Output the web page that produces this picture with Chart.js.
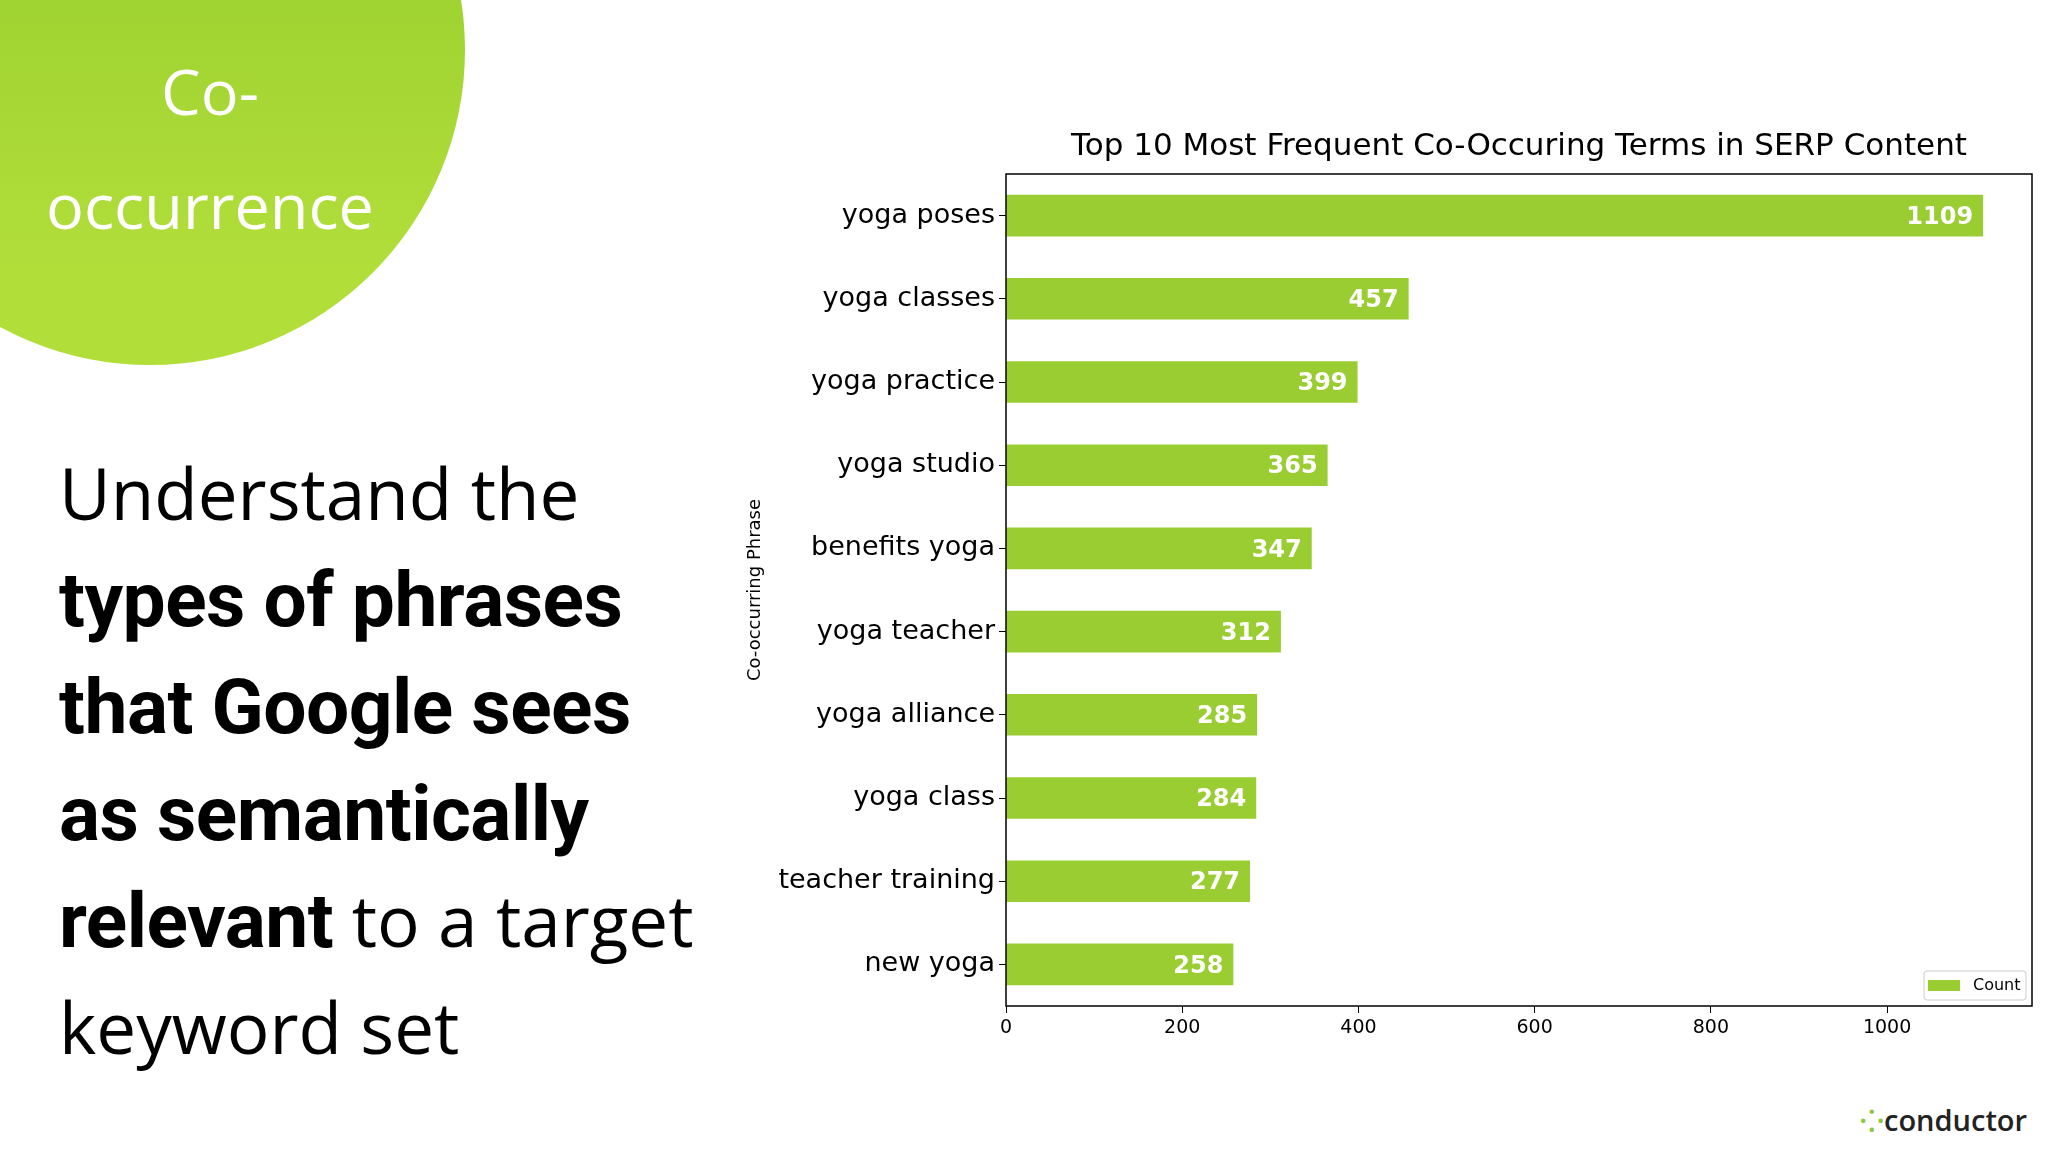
<!DOCTYPE html>
<html><head><meta charset="utf-8">
<script src="https://cdn.jsdelivr.net/npm/chart.js@4/dist/chart.umd.min.js"></script>
<style>
body{margin:0;width:2048px;height:1152px;background:#fff;overflow:hidden;position:relative;font-family:"Open Sans",sans-serif}
#circle{position:absolute;left:-165px;top:-265px;width:630px;height:630px;border-radius:50%;background:linear-gradient(#8dc929,#b2de3a 85%)}
.ct{position:absolute;color:#fff;font-size:63px;width:420px;text-align:center;left:0}
#txt{position:absolute;left:59px;top:440px;font-size:71px;line-height:106px;color:#000;width:760px;white-space:nowrap}
#txt b{font-family:Roboto,sans-serif;font-weight:700;font-size:1.08em;letter-spacing:-0.5px}
#logo{position:absolute;left:1860px;top:1100px;font-family:"Open Sans";font-size:29px;color:#222;font-weight:600;white-space:nowrap}
canvas{position:absolute;left:0;top:0}
</style></head><body>
<div id="circle"></div>
<div class="ct" style="top:48px">Co-</div>
<div class="ct" style="top:162px">occurrence</div>
<div id="txt">Understand the<br><b>types of phrases<br>that Google sees<br>as semantically<br>relevant</b> to a target<br>keyword set</div>
<div id="logo"><span style="color:#8dc63f">⁘</span>conductor</div>
<canvas id="c" width="2048" height="1152"></canvas>
<script>
const categories=["yoga poses","yoga classes","yoga practice","yoga studio","benefits yoga","yoga teacher","yoga alliance","yoga class","teacher training","new yoga"];
const counts=[1109,457,399,365,347,312,285,284,277,258];
const xTicks=[0,200,400,600,800,1000];
const green="#9acd32";
const deco={id:"deco",afterDatasetsDraw(ch){
 const c=ch.ctx,a=ch.chartArea;
 c.save();
 c.strokeStyle="#000";c.lineWidth=1.5;c.strokeRect(a.left,a.top,a.right-a.left,a.bottom-a.top);
 c.fillStyle="#000";c.font="31px 'DejaVu Sans'";c.textAlign="center";c.textBaseline="alphabetic";
 c.fillText("Top 10 Most Frequent Co-Occuring Terms in SERP Content",(a.left+a.right)/2,155);
 c.save();c.translate(755,(a.top+a.bottom)/2);c.rotate(-Math.PI/2);c.font="18px 'DejaVu Sans'";c.textBaseline="middle";c.fillText("Co-occurring Phrase",0,0);c.restore();
 const m=ch.getDatasetMeta(0);
 c.fillStyle="#fff";c.font="bold 24px 'DejaVu Sans'";c.textAlign="right";c.textBaseline="middle";
 m.data.forEach((b,i)=>c.fillText(counts[i],b.x-10,b.y+2));
 c.fillStyle="#fff";c.strokeStyle="#ccc";c.lineWidth=1;
 c.beginPath();c.roundRect(1924,971,102,29,3);c.fill();c.stroke();
 c.fillStyle=green;c.fillRect(1928,980,32,11);
 c.fillStyle="#000";c.font="16px 'DejaVu Sans'";c.textAlign="left";c.fillText("Count",1973,986);
 c.restore();}};
new Chart(document.getElementById("c"),{type:"bar",
 data:{labels:categories,datasets:[{label:"Count",data:counts,backgroundColor:green,categoryPercentage:1,barPercentage:0.5}]},
 options:{indexAxis:"y",responsive:false,animation:false,
  layout:{padding:{left:740,top:174,right:16,bottom:106}},
  plugins:{legend:{display:false},tooltip:{enabled:false}},
  scales:{
   x:{min:0,max:1164.45,afterBuildTicks(s){s.ticks=xTicks.map(v=>({value:v}));},afterFit(s){s.height=40;},
      grid:{display:true,drawOnChartArea:false,drawTicks:true,tickLength:7,color:"#000"},border:{display:false},
      ticks:{color:"#000",font:{size:19,family:"DejaVu Sans"},padding:4,callback:v=>String(v)}},
   y:{afterFit(s){s.width=266;},grid:{display:true,offset:false,drawOnChartArea:false,drawTicks:true,tickLength:7,color:"#000"},border:{display:false},
      ticks:{color:"#000",font:{size:27,family:"DejaVu Sans"},padding:4}}}},
 plugins:[deco]});
</script></body></html>
